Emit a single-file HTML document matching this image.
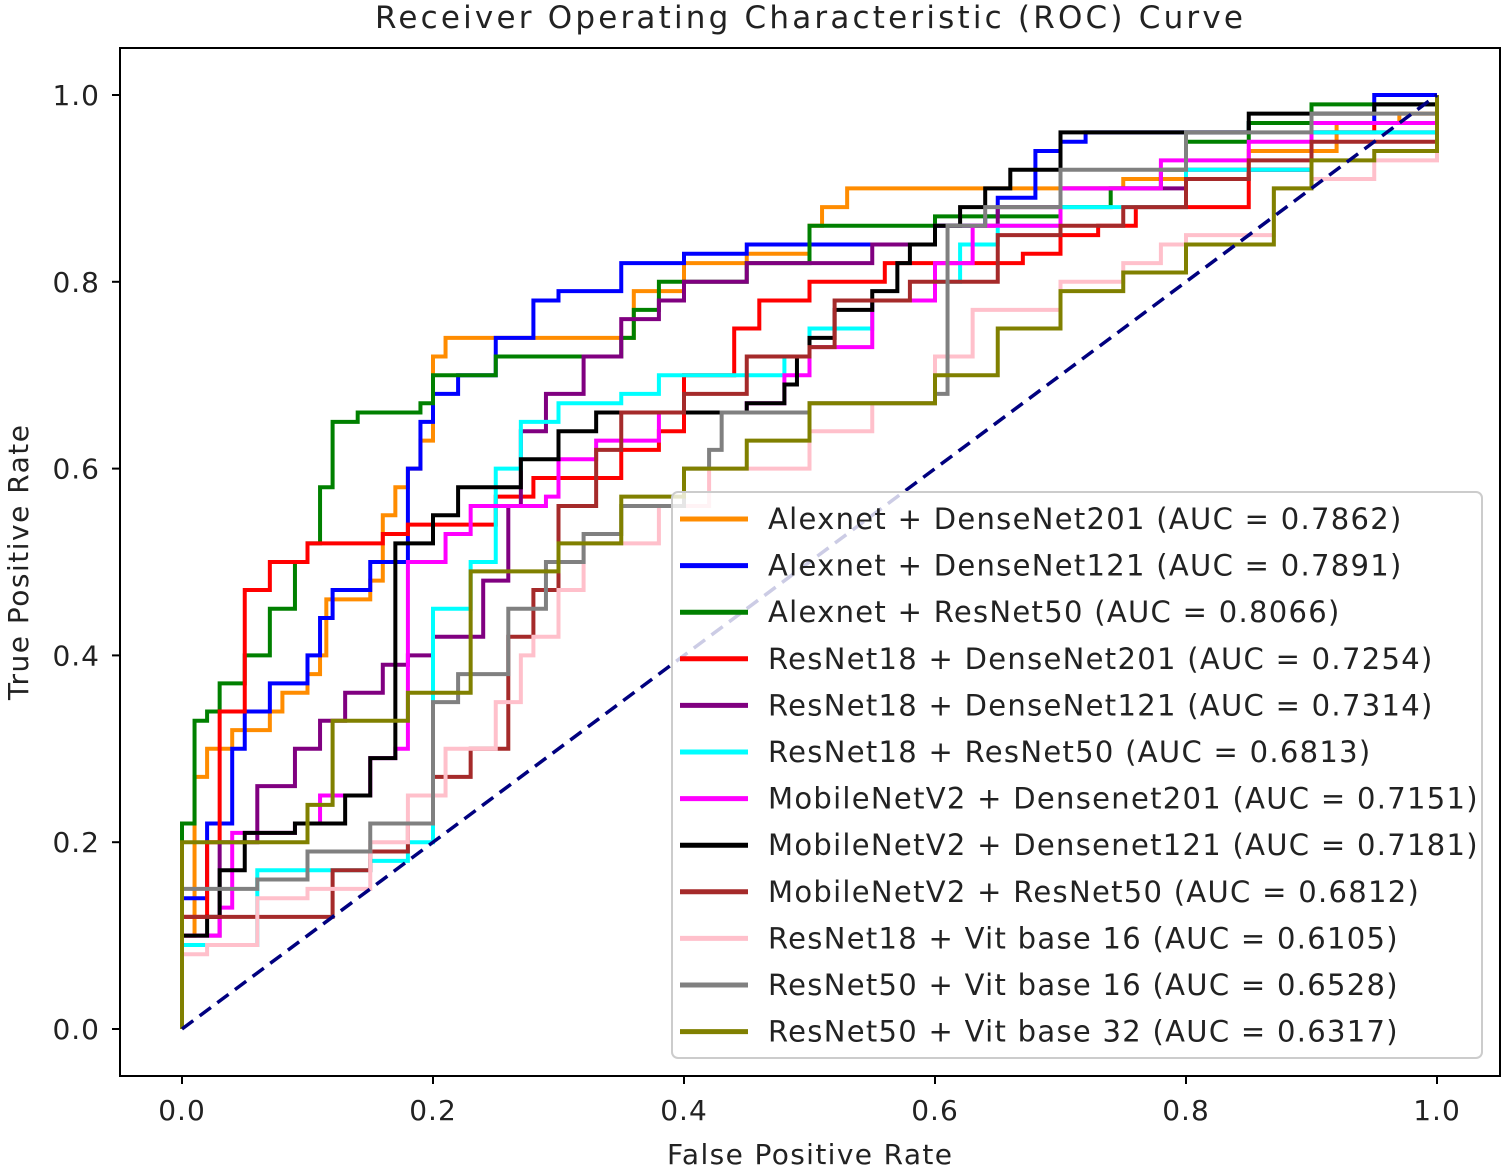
<!DOCTYPE html>
<html><head><meta charset="utf-8"><style>
body{margin:0;background:#fff;}
svg text{font-family:"DejaVu Sans","Liberation Sans",sans-serif;fill:#222;}
</style></head><body>
<svg id="s" width="1505" height="1169" viewBox="0 0 1505 1169" xmlns="http://www.w3.org/2000/svg">
<rect x="0" y="0" width="1505" height="1169" fill="#fff"/>
<text x="375" y="28" font-size="31" textLength="868" lengthAdjust="spacing">Receiver Operating Characteristic (ROC) Curve</text>
<g id="curves"></g>
<line x1="182" y1="1029" x2="1437" y2="95" stroke="#00007f" stroke-width="3.5" stroke-dasharray="14,8"/>
<rect x="120" y="48" width="1380" height="1028" fill="none" stroke="#000" stroke-width="2"/>
<g id="ticks" font-size="28"></g>
<text x="667" y="1164" font-size="28" textLength="285" lengthAdjust="spacing">False Positive Rate</text>
<text transform="translate(28,700) rotate(-90)" font-size="28" textLength="275" lengthAdjust="spacing">True Positive Rate</text>
<rect x="672" y="492" width="810" height="566" rx="6" fill="#fff" fill-opacity="0.8" stroke="#ccc" stroke-width="2"/>
<g id="legend" font-size="29" letter-spacing="1.3"></g>
</svg>
<script>
const X=f=>182+1255*f, Y=t=>1029-934*t;
const C=[
["#ff8c00","Alexnet + DenseNet201 (AUC = 0.7862)",[[0,0],[0,.1],[.01,.2],[.01,.27],[.02,.3],[.04,.32],[.07,.34],[.08,.36],[.1,.38],[.11,.4],[.115,.46],[.15,.48],[.16,.5],[.16,.55],[.17,.58],[.18,.6],[.19,.63],[.2,.66],[.2,.72],[.21,.74],[.36,.75],[.36,.79],[.4,.82],[.45,.83],[.5,.86],[.51,.88],[.53,.9],[.64,.9],[.75,.91],[.85,.94],[.92,.97],[.97,.98],[1,1]]],
["#0000ff","Alexnet + DenseNet121 (AUC = 0.7891)",[[0,0],[0,.14],[.02,.22],[.04,.3],[.05,.34],[.07,.37],[.1,.4],[.11,.44],[.12,.47],[.15,.5],[.18,.52],[.18,.6],[.19,.65],[.2,.68],[.22,.7],[.25,.72],[.25,.74],[.28,.78],[.3,.79],[.35,.8],[.35,.82],[.4,.83],[.45,.84],[.6,.86],[.64,.87],[.65,.89],[.68,.94],[.7,.95],[.72,.96],[.85,.97],[.95,1],[1,1]]],
["#008000","Alexnet + ResNet50 (AUC = 0.8066)",[[0,0],[0,.22],[.01,.33],[.02,.34],[.03,.37],[.05,.4],[.07,.45],[.09,.5],[.1,.52],[.11,.58],[.12,.62],[.12,.65],[.14,.66],[.19,.67],[.2,.7],[.25,.72],[.35,.74],[.36,.77],[.38,.78],[.38,.8],[.45,.82],[.5,.86],[.6,.87],[.7,.88],[.74,.9],[.78,.92],[.8,.95],[.85,.97],[.9,.99],[1,1]]],
["#ff0000","ResNet18 + DenseNet201 (AUC = 0.7254)",[[0,0],[0,.12],[.02,.2],[.03,.34],[.05,.42],[.05,.47],[.07,.5],[.1,.52],[.16,.53],[.18,.54],[.25,.57],[.28,.59],[.35,.62],[.38,.64],[.4,.7],[.44,.75],[.46,.78],[.5,.8],[.56,.82],[.62,.82],[.67,.83],[.7,.85],[.73,.86],[.76,.88],[.8,.88],[.85,.92],[.9,.96],[.95,.97],[1,1]]],
["#800080","ResNet18 + DenseNet121 (AUC = 0.7314)",[[0,0],[0,.1],[.03,.2],[.06,.26],[.09,.3],[.11,.33],[.13,.36],[.16,.39],[.18,.4],[.2,.42],[.24,.48],[.26,.56],[.27,.64],[.29,.68],[.32,.72],[.35,.76],[.38,.78],[.4,.8],[.45,.82],[.55,.84],[.6,.86],[.65,.88],[.7,.9],[.8,.92],[.9,.96],[1,1]]],
["#00ffff","ResNet18 + ResNet50 (AUC = 0.6813)",[[0,0],[0,.09],[.06,.09],[.06,.17],[.15,.18],[.18,.2],[.2,.3],[.2,.45],[.23,.5],[.25,.6],[.27,.65],[.3,.67],[.35,.68],[.38,.7],[.45,.7],[.48,.72],[.5,.75],[.55,.78],[.6,.8],[.62,.84],[.65,.86],[.7,.88],[.8,.92],[.9,.96],[1,1]]],
["#ff00ff","MobileNetV2 + Densenet201 (AUC = 0.7151)",[[0,0],[0,.1],[.03,.13],[.04,.21],[.09,.22],[.11,.25],[.15,.29],[.17,.3],[.18,.5],[.21,.53],[.23,.56],[.29,.57],[.3,.61],[.33,.63],[.38,.66],[.45,.67],[.48,.7],[.5,.73],[.55,.78],[.6,.82],[.63,.86],[.7,.9],[.78,.93],[.85,.95],[.9,.97],[1,1]]],
["#000000","MobileNetV2 + Densenet121 (AUC = 0.7181)",[[0,0],[0,.1],[.02,.12],[.03,.17],[.05,.21],[.09,.22],[.13,.25],[.15,.29],[.17,.33],[.17,.52],[.2,.55],[.22,.58],[.25,.58],[.27,.61],[.3,.64],[.33,.66],[.45,.67],[.48,.69],[.49,.72],[.5,.74],[.52,.77],[.55,.79],[.57,.82],[.58,.84],[.6,.86],[.62,.88],[.64,.9],[.66,.92],[.7,.96],[.8,.96],[.85,.98],[.95,.99],[1,1]]],
["#a52a2a","MobileNetV2 + ResNet50 (AUC = 0.6812)",[[0,0],[0,.12],[.12,.12],[.12,.17],[.15,.19],[.18,.22],[.2,.27],[.23,.3],[.26,.42],[.28,.47],[.3,.56],[.33,.62],[.35,.66],[.4,.68],[.45,.72],[.5,.73],[.52,.78],[.58,.8],[.65,.85],[.7,.86],[.75,.88],[.8,.91],[.85,.93],[.9,.95],[1,.98],[1,1]]],
["#ffc0cb","ResNet18 + Vit base 16 (AUC = 0.6105)",[[0,0],[0,.08],[.02,.09],[.05,.09],[.06,.14],[.1,.15],[.15,.2],[.18,.25],[.21,.3],[.25,.35],[.27,.4],[.28,.42],[.3,.47],[.32,.52],[.38,.56],[.42,.6],[.5,.64],[.55,.67],[.6,.72],[.62,.72],[.63,.77],[.7,.8],[.75,.82],[.78,.84],[.8,.85],[.87,.9],[.9,.91],[.95,.93],[1,.95],[1,1]]],
["#808080","ResNet50 + Vit base 16 (AUC = 0.6528)",[[0,0],[0,.15],[.06,.16],[.1,.19],[.15,.22],[.2,.25],[.2,.35],[.22,.38],[.26,.45],[.29,.5],[.32,.53],[.35,.56],[.4,.6],[.42,.62],[.43,.66],[.5,.67],[.6,.68],[.61,.86],[.64,.88],[.7,.92],[.8,.96],[.9,.98],[1,1]]],
["#808000","ResNet50 + Vit base 32 (AUC = 0.6317)",[[0,0],[0,.2],[.05,.2],[.1,.24],[.12,.33],[.18,.36],[.23,.39],[.23,.49],[.3,.52],[.35,.57],[.4,.6],[.45,.63],[.5,.67],[.6,.7],[.65,.75],[.7,.79],[.75,.81],[.8,.84],[.87,.9],[.9,.93],[.95,.94],[1,.97],[1,1]]]
];
const NS="http://www.w3.org/2000/svg";
function el(t,a,p,txt){const e=document.createElementNS(NS,t);for(const k in a)e.setAttribute(k,a[k]);if(txt!==undefined)e.textContent=txt;p.appendChild(e);return e;}
const g=document.getElementById("curves"),lg=document.getElementById("legend"),tk=document.getElementById("ticks");
C.forEach((c,i)=>{
 let pts=[];c[2].forEach((p,j)=>{if(j>0){pts.push(X(p[0])+","+Y(c[2][j-1][1]));}pts.push(X(p[0])+","+Y(p[1]));});
 el("polyline",{points:pts.join(" "),fill:"none",stroke:c[0],"stroke-width":4,"stroke-linejoin":"miter"},g);
 const y=519+i*46.6;
 el("line",{x1:680,x2:748,y1:y,y2:y,stroke:c[0],"stroke-width":5},lg);
 el("text",{x:768,y:y+10},lg,c[1]);
});
for(let i=0;i<=5;i++){const v=(i*0.2).toFixed(1);
 const x=X(i*0.2);el("line",{x1:x,x2:x,y1:1076,y2:1084,stroke:"#000","stroke-width":2},tk);
 el("text",{x:x,y:1120,"text-anchor":"middle","letter-spacing":"1"},tk,v);
 const y=Y(i*0.2);el("line",{x1:112,x2:120,y1:y,y2:y,stroke:"#000","stroke-width":2},tk);
 el("text",{x:100,y:y+10,"text-anchor":"end","letter-spacing":"1"},tk,v);}
</script>
</body></html>
